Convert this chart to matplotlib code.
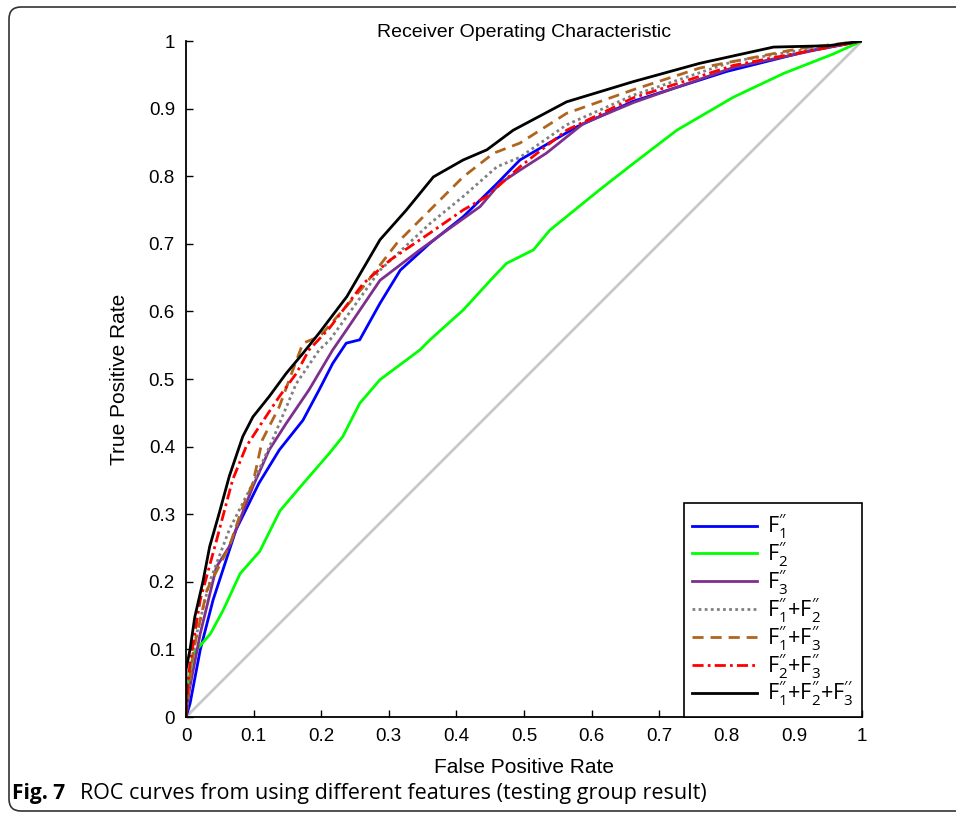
import matplotlib
matplotlib.use("Agg")
import matplotlib.pyplot as plt
from matplotlib.patches import PathPatch
from matplotlib.path import Path
from matplotlib.transforms import IdentityTransform

plt.rcParams['font.family'] = ['Liberation Sans', 'DejaVu Sans']
plt.rcParams['mathtext.fontset'] = 'custom'
plt.rcParams['mathtext.rm'] = 'Open Sans'
plt.rcParams['mathtext.it'] = 'Open Sans'

# ROC curves (false positive rate, true positive rate)
f1_x = [0, 0.006, 0.021, 0.04, 0.074, 0.108, 0.138, 0.173, 0.197, 0.217, 0.237, 0.257,
        0.287, 0.317, 0.361, 0.41, 0.46, 0.494, 0.578, 0.662, 0.8, 0.92, 1.0]
f1_y = [0, 0.02, 0.099, 0.173, 0.277, 0.346, 0.395, 0.439, 0.484, 0.523, 0.553, 0.558,
        0.612, 0.661, 0.701, 0.74, 0.789, 0.824, 0.873, 0.911, 0.955, 0.985, 1.0]

f2_x = [0, 0.005, 0.011, 0.036, 0.055, 0.08, 0.109, 0.139, 0.173, 0.212, 0.232, 0.257,
        0.287, 0.346, 0.361, 0.41, 0.455, 0.474, 0.514, 0.538, 0.612, 0.662, 0.726,
        0.81, 0.884, 0.958, 1.0]
f2_y = [0, 0.06, 0.094, 0.123, 0.158, 0.212, 0.245, 0.305, 0.345, 0.39, 0.415, 0.464,
        0.499, 0.543, 0.558, 0.602, 0.651, 0.671, 0.691, 0.72, 0.78, 0.819, 0.868,
        0.917, 0.952, 0.981, 1.0]

f3_x = [0, 0.005, 0.021, 0.045, 0.064, 0.099, 0.123, 0.148, 0.182, 0.217, 0.237, 0.287,
        0.346, 0.386, 0.435, 0.464, 0.494, 0.533, 0.588, 0.662, 0.81, 0.933, 1.0]
f3_y = [0, 0.04, 0.123, 0.222, 0.252, 0.341, 0.395, 0.434, 0.484, 0.543, 0.572, 0.646,
        0.691, 0.72, 0.755, 0.789, 0.809, 0.834, 0.878, 0.909, 0.961, 0.987, 1.0]

f12_x = [0, 0.005, 0.015, 0.035, 0.064, 0.099, 0.128, 0.163, 0.197, 0.213, 0.287, 0.361,
         0.41, 0.46, 0.494, 0.563, 0.662, 0.81, 0.92, 1.0]
f12_y = [0, 0.05, 0.12, 0.2, 0.277, 0.346, 0.41, 0.493, 0.543, 0.558, 0.661, 0.73,
         0.77, 0.814, 0.828, 0.876, 0.92, 0.97, 0.988, 1.0]

f13_x = [0, 0.005, 0.011, 0.031, 0.064, 0.084, 0.099, 0.113, 0.138, 0.158, 0.173, 0.198,
         0.262, 0.312, 0.361, 0.41, 0.455, 0.494, 0.563, 0.662, 0.76, 0.908, 1.0]
f13_y = [0, 0.05, 0.099, 0.188, 0.252, 0.311, 0.346, 0.41, 0.459, 0.513, 0.553, 0.563,
         0.636, 0.701, 0.75, 0.799, 0.834, 0.849, 0.893, 0.928, 0.96, 0.989, 1.0]

f23_x = [0, 0.003, 0.006, 0.021, 0.044, 0.069, 0.089, 0.108, 0.138, 0.163, 0.182, 0.212,
         0.262, 0.302, 0.361, 0.41, 0.445, 0.494, 0.563, 0.662, 0.81, 0.92, 1.0]
f23_y = [0, 0.05, 0.08, 0.173, 0.257, 0.351, 0.4, 0.429, 0.474, 0.508, 0.543, 0.575,
         0.641, 0.676, 0.716, 0.75, 0.77, 0.814, 0.868, 0.916, 0.964, 0.985, 1.0]

f123_x = [0, 0, 0.006, 0.013, 0.025, 0.035, 0.049, 0.064, 0.084, 0.099, 0.123, 0.148,
          0.173, 0.197, 0.238, 0.287, 0.326, 0.366, 0.41, 0.445, 0.484, 0.563, 0.662,
          0.76, 0.869, 0.95, 1.0]
f123_y = [0, 0.07, 0.1, 0.148, 0.2, 0.252, 0.301, 0.356, 0.415, 0.444, 0.474, 0.508,
          0.538, 0.568, 0.622, 0.706, 0.75, 0.799, 0.824, 0.839, 0.868, 0.91, 0.94,
          0.967, 0.991, 0.993, 1.0]

labels = [r"$\mathrm{F}_1^{\prime\prime}$",
          r"$\mathrm{F}_2^{\prime\prime}$",
          r"$\mathrm{F}_3^{\prime\prime}$",
          r"$\mathrm{F}_1^{\prime\prime}\mathrm{+F}_2^{\prime\prime}$",
          r"$\mathrm{F}_1^{\prime\prime}\mathrm{+F}_3^{\prime\prime}$",
          r"$\mathrm{F}_2^{\prime\prime}\mathrm{+F}_3^{\prime\prime}$",
          r"$\mathrm{F}_1^{\prime\prime}\mathrm{+F}_2^{\prime\prime}\mathrm{+F}_3^{\prime\prime}$"]
ticks = [0, 0.1, 0.2, 0.3, 0.4, 0.5, 0.6, 0.7, 0.8, 0.9, 1]
tick_labels = ["0", "0.1", "0.2", "0.3", "0.4", "0.5", "0.6", "0.7", "0.8", "0.9", "1"]

fig = plt.figure(figsize=(9.56, 8.14), dpi=100)
ax = fig.add_axes([186 / 956, 97 / 814, 676 / 956, 676 / 814])

# chance line
ax.plot([0, 1], [0, 1], color='#c8c8c8', lw=2)

lw = 2
ax.plot(f1_x, f1_y, color='#0000ff', lw=lw, label=labels[0])
ax.plot(f2_x, f2_y, color='#00ff00', lw=lw, label=labels[1])
ax.plot(f3_x, f3_y, color='#7e2f8e', lw=lw, label=labels[2])
ax.plot(f12_x, f12_y, color='#808080', lw=lw, ls=(0, (1, 1.2)), label=labels[3])
ax.plot(f13_x, f13_y, color='#b0651e', lw=lw, ls=(0, (4, 2.5)), label=labels[4])
ax.plot(f23_x, f23_y, color='#ff0000', lw=lw, ls=(0, (4, 1.5, 1, 1.5)), label=labels[5])
ax.plot(f123_x, f123_y, color='#000000', lw=lw, label=labels[6])

ax.set_xlim(0, 1)
ax.set_ylim(0, 1)
ax.set_xticks(ticks)
ax.set_xticklabels(tick_labels)
ax.set_yticks(ticks)
ax.set_yticklabels(tick_labels)
ax.tick_params(direction='in', length=5, width=1, labelsize=13.5, pad=8)
ax.spines['top'].set_visible(False)
ax.spines['right'].set_visible(False)
ax.spines['left'].set_linewidth(1.3)
ax.spines['bottom'].set_linewidth(1.3)

ax.set_title("Receiver Operating Characteristic", fontsize=14, pad=-2)
ax.set_xlabel("False Positive Rate", fontsize=15, labelpad=9)
ax.set_ylabel("True Positive Rate", fontsize=15, labelpad=14)

leg = ax.legend(loc='lower right', fontsize=15.5, handlelength=3.0, labelspacing=-0.08,
                borderaxespad=0.0, fancybox=False, edgecolor='black', framealpha=1,
                handletextpad=0.45, borderpad=0.4)
leg.get_frame().set_linewidth(1.2)

# caption
fig.text(12 / 956, 1 - 794 / 814, "Fig. 7", fontsize=15, fontweight='bold',
         family='Open Sans', va='center')
fig.text(80 / 956, 1 - 794 / 814,
         "ROC curves from using different features (testing group result)",
         fontsize=15.5, family='Open Sans', va='center')

# rounded frame around the figure, open on the right side (pixel coords)
r = 12
verts = [(1000, 807), (9 + r, 807), (9, 807), (9, 807 - r), (9, 3 + r), (9, 3),
         (9 + r, 3), (1000, 3)]
codes = [Path.MOVETO, Path.LINETO, Path.CURVE3, Path.CURVE3, Path.LINETO,
         Path.CURVE3, Path.CURVE3, Path.LINETO]
frame = PathPatch(Path(verts, codes), transform=IdentityTransform(), fill=False,
                  edgecolor='#333333', lw=1.2, clip_on=False)
fig.patches.append(frame)

fig.savefig("out.png", dpi=100)
